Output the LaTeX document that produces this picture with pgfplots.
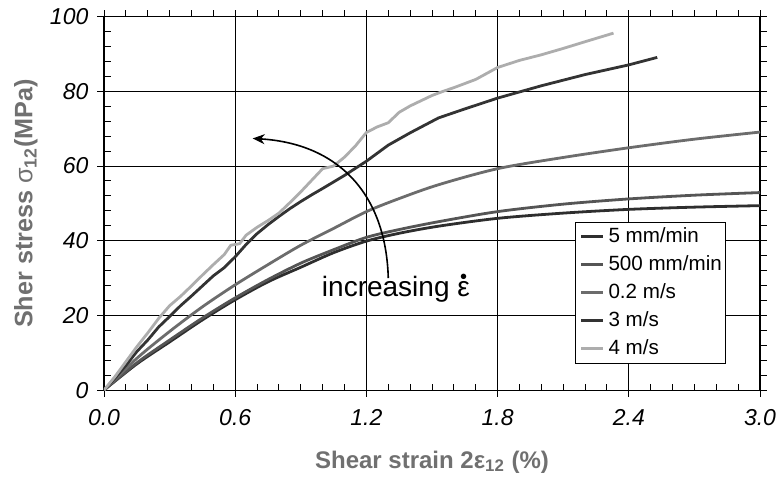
\documentclass[border=0pt]{standalone}
\usepackage{fontspec}
\setmainfont{Liberation Sans}
\usepackage{pgfplots}
\pgfplotsset{compat=1.18}
\usetikzlibrary{arrows.meta}

\definecolor{labgray}{HTML}{707070}
\definecolor{cA}{HTML}{2E2E2E}
\definecolor{cB}{HTML}{555555}
\definecolor{cC}{HTML}{6C6C6C}
\definecolor{cD}{HTML}{333333}
\definecolor{cE}{HTML}{ADADAD}

\begin{document}
\begin{tikzpicture}
\begin{axis}[
  scale only axis,
  width=328bp, height=186.7bp,
  xmin=0, xmax=3, ymin=0, ymax=100,
  xtick={0,0.6,1.2,1.8,2.4,3.0},
  ytick={0,20,40,60,80,100},
  minor x tick num=5, minor y tick num=4,
  grid=major,
  major grid style={black, line width=0.5bp},
  axis line style={black, line width=0.6bp},
  tick style={black, line width=0.5bp},
  tick align=center,
  major tick length=6.6bp,
  minor tick length=3.3bp,
  every minor x tick/.append style={yshift=1.65bp},
  every minor y tick/.append style={xshift=1.65bp},
  /pgf/number format/assume math mode=true,
  xticklabel style={/pgf/number format/fixed, /pgf/number format/fixed zerofill,
    /pgf/number format/precision=1, yshift=-3bp},
  yticklabel style={xshift=-1bp},
  ticklabel style={font=\fontsize{11.5bp}{13bp}\selectfont\itshape},
  xlabel={Shear strain 2ε\textsubscript{12} (\%)},
  ylabel={Sher stress {\mdseries σ}\textsubscript{12}(MPa)},
  every axis x label/.style={at={(axis description cs:0.5,-0.193)}, anchor=center,
    font=\fontsize{12bp}{14bp}\selectfont\bfseries, text=labgray},
  every axis y label/.style={at={(axis description cs:-0.119,0.5)}, anchor=center, rotate=90,
    font=\fontsize{12.6bp}{14bp}\selectfont\bfseries, text=labgray},
  legend cell align=left,
  legend image code/.code={\draw[#1, line width=1.5bp] (0bp,0bp) -- (11bp,0bp);},
  legend style={at={(rel axis cs:0.718,0.451)}, anchor=north west,
    draw=black, line width=0.5bp, fill=white, inner sep=2bp,
    row sep=3.5bp, column sep=2bp,
    font=\fontsize{10.3bp}{12bp}\selectfont,
    nodes={inner sep=0pt, text height=8bp, text depth=2.5bp}},
]
% 5 mm/min
\addplot[cA, line width=1.4bp, smooth] coordinates {
  (0,0) (0.15,7.0) (0.3,12.9) (0.45,18.8) (0.6,24.2) (0.75,29.0) (0.9,32.9)
  (1.05,36.8) (1.2,39.9) (1.35,42.0) (1.53,43.9) (1.8,46.0) (2.1,47.4)
  (2.4,48.4) (2.7,49.0) (3.0,49.4)
};
% 500 mm/min
\addplot[cB, line width=1.4bp, smooth] coordinates {
  (0,0) (0.15,7.3) (0.3,13.4) (0.45,19.3) (0.6,24.7) (0.75,29.6) (0.9,34.0)
  (1.05,37.6) (1.2,40.9) (1.35,43.0) (1.53,45.1) (1.8,47.8) (2.1,49.8)
  (2.4,51.2) (2.7,52.2) (3.0,52.9)
};
% 0.2 m/s
\addplot[cC, line width=1.4bp, smooth] coordinates {
  (0,0) (0.15,8.5) (0.3,15.7) (0.45,22.3) (0.6,28.2) (0.75,33.6) (0.9,38.8)
  (1.05,43.3) (1.2,47.8) (1.35,51.3) (1.53,55.0) (1.8,59.3) (2.1,62.3)
  (2.4,64.9) (2.7,67.2) (3.0,69.1)
};
% 3 m/s
\addplot[cD, line width=1.4bp] coordinates {
  (0,0) (0.05,3.2) (0.1,6.6) (0.15,10.3) (0.2,13.4) (0.25,16.9) (0.3,19.7)
  (0.35,22.6) (0.4,25.2) (0.45,27.9) (0.5,30.6) (0.55,32.8) (0.6,35.7)
  (0.65,39.0) (0.7,41.9) (0.75,44.3) (0.8,46.5) (0.85,48.6) (0.9,50.5)
  (0.95,52.3) (1.0,54.0) (1.1,57.5) (1.2,61.3) (1.3,65.6) (1.4,68.9)
  (1.53,72.9) (1.65,75.3) (1.8,78.2) (2.0,81.5) (2.2,84.5) (2.4,87.1) (2.53,89.1)
};
% 4 m/s
\addplot[cE, line width=1.4bp] coordinates {
  (0,0) (0.05,3.6) (0.1,7.6) (0.15,11.6) (0.2,15.3) (0.25,19.2) (0.3,22.6)
  (0.35,25.1) (0.4,27.9) (0.45,30.8) (0.5,33.6) (0.55,36.3) (0.58,38.8)
  (0.62,39.2) (0.65,41.5) (0.7,43.6) (0.75,45.4) (0.8,47.4) (0.85,50.2)
  (0.9,53.1) (0.95,56.2) (1.0,59.3) (1.05,60.0) (1.1,62.4) (1.15,65.4)
  (1.2,69.0) (1.25,70.5) (1.3,71.6) (1.35,74.4) (1.4,76.1) (1.45,77.5)
  (1.5,78.9) (1.55,80.0) (1.6,81.0) (1.7,83.2) (1.8,86.4) (1.9,88.3)
  (2.0,89.8) (2.1,91.5) (2.2,93.3) (2.33,95.6)
};
\legend{5 mm/min, 500 mm/min, 0.2 m/s, 3 m/s, 4 m/s}
% annotation
\draw[black, line width=0.8bp, -{Stealth[length=6bp, width=5bp]}]
  (axis cs:1.30,30) .. controls (axis cs:1.29,52) and (axis cs:1.08,66) .. (axis cs:0.68,67.4);
\node[anchor=base west, inner sep=0pt, font=\fontsize{14bp}{16bp}\selectfont]
  at (axis cs:0.995,25) {increasing\ \ooalign{ε\cr\hidewidth\raisebox{6.5bp}{\fontsize{10bp}{10bp}\selectfont •}\hidewidth\cr}};
\coordinate (bl) at (rel axis cs:0,0);
\coordinate (tr) at (rel axis cs:1,1);
\end{axis}
\pgfresetboundingbox
\path[use as bounding box] ([shift={(-52bp,-46bp)}]bl) rectangle ([shift={(10.5bp,8.35bp)}]tr);
\end{tikzpicture}
\end{document}
